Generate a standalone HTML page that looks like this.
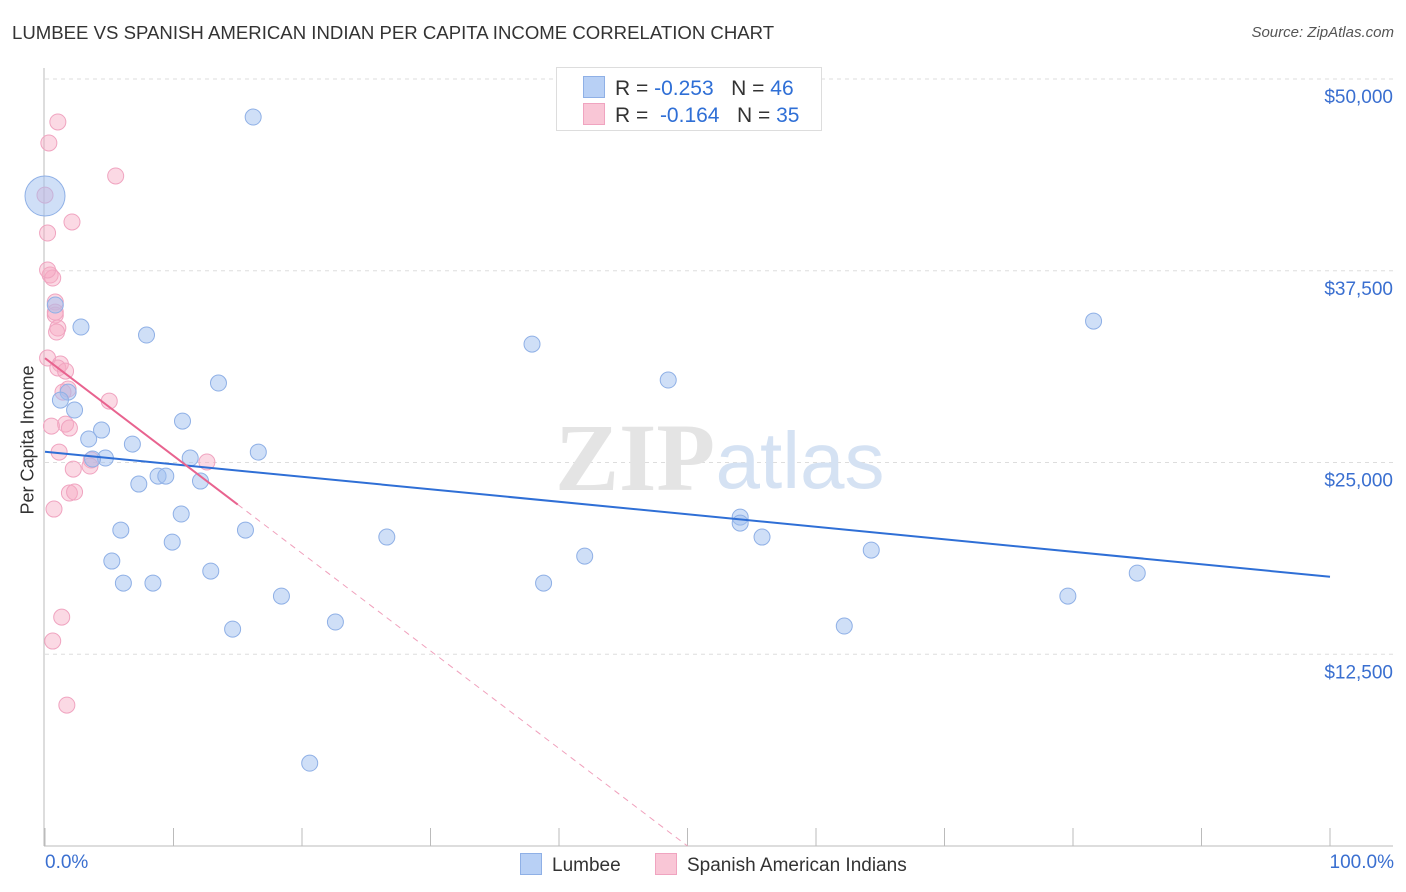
<!DOCTYPE html>
<html><head><meta charset="utf-8"><style>
body{margin:0;background:#fff;font-family:"Liberation Sans",sans-serif;}
#wrap{position:relative;width:1406px;height:892px;overflow:hidden;}
.t{position:absolute;white-space:nowrap;}
</style></head><body>
<div id="wrap">
<div class="t" style="left:12px;top:22px;font-size:18.6px;color:#333;">LUMBEE VS SPANISH AMERICAN INDIAN PER CAPITA INCOME CORRELATION CHART</div>
<div class="t" style="right:12px;top:24px;font-size:15px;color:#555;font-style:italic;">Source: ZipAtlas.com</div>
<svg id="svg" width="1406" height="892" style="position:absolute;left:0;top:0"></svg>
</div>
<script>
const blueX=[0,16.2,0.8,2.8,7.9,37.9,48.5,81.6,13.5,1.8,1.2,2.3,10.7,3.4,4.4,6.8,16.6,4.7,11.3,3.7,8.8,9.4,12.1,7.3,10.6,54.1,54.1,5.9,15.6,26.6,55.8,9.9,64.3,5.2,42.0,12.9,85.0,6.1,8.4,38.8,18.4,79.6,22.6,14.6,62.2,20.6];
const blueY=[42370,47520,35265,33830,33310,32720,30375,34220,30180,29590,29070,28420,27700,26530,27115,26200,25680,25290,25290,25225,24115,24115,23790,23595,21640,21440,21050,20595,20595,20140,20140,19810,19290,18575,18900,17920,17790,17140,17140,17140,16290,16290,14600,14140,14340,5400];
const pinkX=[1.0,0.3,5.5,2.1,0.2,0.4,0.6,0.8,0.8,1.0,0.9,0.2,1.2,1.0,1.6,1.8,5.0,1.6,0.5,1.9,1.1,3.6,3.5,2.2,12.6,1.9,2.3,0.7,1.3,0.6,1.7,0,0.2,1.4,0.8];
const pinkY=[47200,45830,43680,40680,39960,37220,37025,35460,34610,33765,33505,31810,31420,31160,30960,29790,29005,27505,27375,27245,25680,25160,24770,24570,25030,23010,23075,21965,14920,13360,9185,42430,37550,29590,34800];
const blueTrend=[25700,17550];
const pinkTrend=[31800,22260];
const pinkSolidEnd=[15];
const yTicks=[12500,25000,37500,50000];
const yTickLabels=["$12,500","$25,000","$37,500","$50,000"];
const xTicks=[0,10,20,30,40,50,60,70,80,90,100];

const X=p=>45+p*12.85;
const Y=v=>846-v/12500*191.75;
const svg=document.getElementById('svg');
const NS='http://www.w3.org/2000/svg';
function mk(tag,attrs,parent){const e=document.createElementNS(NS,tag);for(const k in attrs)e.setAttribute(k,attrs[k]);(parent||svg).appendChild(e);return e;}

yTicks.forEach((v,i)=>{
  const g=mk('line',{x1:45,x2:1393,y1:Y(v),y2:Y(v),stroke:'#ddd','stroke-dasharray':'4,4'});
  
  
  const t=mk('text',{x:1393,y:Y(v)+24,'text-anchor':'end','font-size':19,fill:'#3a6fd0','font-family':'Liberation Sans'});
  t.textContent=yTickLabels[i];
  
  
});
let a=mk('line',{x1:44,x2:44,y1:68,y2:846,stroke:'#bbb'});


a=mk('line',{x1:44,x2:1393,y1:846,y2:846,stroke:'#bbb'});


xTicks.forEach(p=>{
  const l=mk('line',{x1:X(p),x2:X(p),y1:828,y2:846,stroke:'#bbb'});
  
  
});
let w=mk('text',{x:635,y:490,'text-anchor':'middle','font-size':96,fill:'#e4e4e4','font-family':'Liberation Serif','font-weight':'bold'});
w.textContent='ZIP';


w=mk('text',{x:800,y:488,'text-anchor':'middle','font-size':80,fill:'#d5e2f3','font-family':'Liberation Sans'});
w.textContent='atlas';



pinkX.forEach((x,i)=>{
  const c=mk('circle',{cx:X(x),cy:Y(pinkY[i]),r:8,fill:'rgba(246,170,196,0.45)',stroke:'#f0a4c0','stroke-width':1});
  
  
});
blueX.forEach((x,i)=>{
  const c=mk('circle',{cx:X(x),cy:Y(blueY[i]),r:i===0?20:8,fill:'rgba(160,192,240,0.5)',stroke:'#8fb0e6','stroke-width':1});
  
  
});
let tl=mk('line',{x1:X(0),y1:Y(blueTrend[0]),x2:X(100),y2:Y(blueTrend[1]),stroke:'#2f6fd6','stroke-width':2});


const ps=(pinkTrend[1]-pinkTrend[0])/pinkSolidEnd[0];
const zeroX=-pinkTrend[0]/ps;
tl=mk('line',{x1:X(pinkSolidEnd[0]),y1:Y(pinkTrend[1]),x2:X(zeroX),y2:Y(0),stroke:'#f0a0bc','stroke-width':1,'stroke-dasharray':'6,5'});


tl=mk('line',{x1:X(0),y1:Y(pinkTrend[0]),x2:X(pinkSolidEnd[0]),y2:Y(pinkTrend[1]),stroke:'#e8638f','stroke-width':2});


</script>
<div class="t" style="left:-32px;top:444px;font-size:18px;color:#333;transform:rotate(-90deg);width:120px;text-align:center;">Per Capita Income</div>
<div class="t" style="left:45px;top:852px;font-size:19px;color:#3a6fd0;">0.0%</div>
<div class="t" style="right:12px;top:852px;font-size:19px;color:#3a6fd0;">100.0%</div>
<div style="position:absolute;left:556px;top:67px;width:264px;height:62px;border:1px solid #ddd;background:#fff;font-size:21px;color:#333;">
  <div style="position:absolute;left:26px;top:8px;white-space:nowrap;"><span style="display:inline-block;width:20px;height:20px;background:#b8d0f5;border:1px solid #8fb0e6;vertical-align:-3px;margin-right:10px;"></span>R = <span style="color:#2f6fd6">-0.253</span>&nbsp;&nbsp;&nbsp;N = <span style="color:#2f6fd6">46</span></div>
  <div style="position:absolute;left:26px;top:35px;white-space:nowrap;"><span style="display:inline-block;width:20px;height:20px;background:#f9c6d6;border:1px solid #f0a4c0;vertical-align:-3px;margin-right:10px;"></span>R = &nbsp;<span style="color:#2f6fd6">-0.164</span>&nbsp;&nbsp;&nbsp;N = <span style="color:#2f6fd6">35</span></div>
</div>
<div class="t" style="left:520px;top:853px;font-size:19px;color:#333;"><span style="display:inline-block;width:20px;height:20px;background:#b8d0f5;border:1px solid #8fb0e6;vertical-align:-4px;margin-right:10px;"></span>Lumbee</div>
<div class="t" style="left:655px;top:853px;font-size:19px;color:#333;"><span style="display:inline-block;width:20px;height:20px;background:#f9c6d6;border:1px solid #f0a4c0;vertical-align:-4px;margin-right:10px;"></span>Spanish American Indians</div>
</body></html>
